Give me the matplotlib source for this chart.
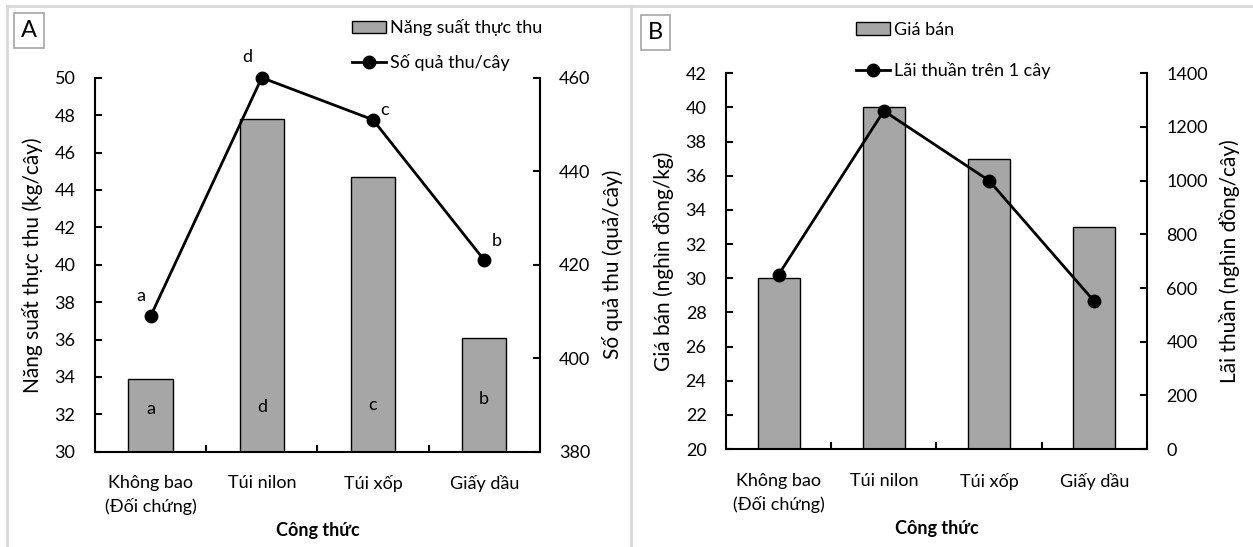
import matplotlib
matplotlib.use("Agg")
import matplotlib.pyplot as plt
from matplotlib.lines import Line2D

plt.rcParams['font.family'] = ['Lato', 'Noto Sans', 'DejaVu Sans']

# data
categories = ['Không bao\n(Đối chứng)', 'Túi nilon', 'Túi xốp', 'Giấy dầu']

yield_kg = [33.9, 47.8, 44.7, 36.1]          # Năng suất thực thu
fruits = [409, 460, 451, 421]                # Số quả thu/cây
bar_letters = ['a', 'd', 'c', 'b']
line_letters = ['a', 'd', 'c', 'b']

price = [30, 40, 37, 33]                     # Giá bán
profit = [650, 1260, 1000, 550]              # Lãi thuần trên 1 cây

bar_color = '#A6A6A6'
fs = 13

fig = plt.figure(figsize=(12.53, 5.47), dpi=100)

# panel frame lines (light grey)
for ln in [([0.0055, 1.0], [0.989, 0.989]),
           ([0.0055, 0.0055], [0.0, 0.989]),
           ([0.5035, 0.5035], [0.0, 0.989])]:
    fig.add_artist(Line2D(ln[0], ln[1], color='#D9D9D9', lw=2, transform=fig.transFigure))


def panel(rect, bars, line, ylim_l, yticks_l, ylim_r, yticks_r, ylab_l, ylab_r,
          bar_lab, line_lab, letter, letter_pos, leg_pos, leg_space):
    ax = fig.add_axes(rect)
    x = list(range(len(categories)))
    b = ax.bar(x, bars, width=0.4, color=bar_color, edgecolor='black', linewidth=1,
               label=bar_lab, zorder=2)
    ax.set_xlim(-0.5, len(categories) - 0.5)
    ax.set_ylim(*ylim_l)
    ax.set_yticks(yticks_l)
    ax.set_xticks(x)
    ax.set_xticklabels(categories, fontsize=fs, linespacing=1.5)
    ax.set_xticks([0.5, 1.5, 2.5], minor=True)
    ax.tick_params(axis='x', which='major', length=0, pad=17)
    ax.tick_params(axis='x', which='minor', direction='in', length=5, width=1.5)
    ax.tick_params(axis='y', direction='in', length=5, width=1.5, labelsize=fs, pad=14)
    ax.spines['top'].set_visible(False)
    ax.spines['right'].set_visible(False)
    for s in ['left', 'bottom']:
        ax.spines[s].set_linewidth(1.5)
    ax.set_ylabel(ylab_l, fontsize=15, labelpad=8)
    ax.set_xlabel('Công thức', fontsize=fs, fontweight='bold', labelpad=5)

    ax2 = ax.twinx()
    l, = ax2.plot(x, line, color='black', lw=2, marker='o', markersize=9,
                  label=line_lab, zorder=3, clip_on=False)
    ax2.set_ylim(*ylim_r)
    ax2.set_yticks(yticks_r)
    ax2.tick_params(axis='y', direction='in', length=5, width=1.5, labelsize=fs, pad=14)
    for s in ['top', 'left', 'bottom']:
        ax2.spines[s].set_visible(False)
    ax2.spines['right'].set_linewidth(1.5)
    ax2.set_ylabel(ylab_r, fontsize=15, labelpad=8)

    fig.text(letter_pos[0], letter_pos[1], letter, fontsize=17, ha='left', va='top',
             bbox=dict(boxstyle='square,pad=0.3', facecolor='white', edgecolor='#A6A6A6', lw=1.2))

    ax2.legend([b, l], [bar_lab, line_lab], loc='upper left', bbox_to_anchor=leg_pos,
               bbox_transform=fig.transFigure, frameon=False, fontsize=fs,
               handlelength=1.9, handletextpad=0.2, labelspacing=leg_space, borderpad=0,
               borderaxespad=0)
    return ax, ax2


axA, axA2 = panel([0.0758, 0.174, 0.355, 0.684], yield_kg, fruits,
                  (30, 50), list(range(30, 51, 2)), (380, 460), [380, 400, 420, 440, 460],
                  'Năng suất thực thu (kg/cây)', 'Số quả thu (quả/cây)',
                  'Năng suất thực thu', 'Số quả thu/cây', 'A', (0.017, 0.963), (0.281, 0.965), 1.0)

# significance letters
x = range(len(categories))
bar_letter_y = [32.3, 32.4, 32.5, 32.8]
for xi, t, yy in zip(x, bar_letters, bar_letter_y):
    axA.text(xi, yy, t, ha='center', va='center', fontsize=fs)
line_off = [(-10, 20), (-15, 21), (12, 10), (13, 19)]
for xi, yv, t, off in zip(x, fruits, line_letters, line_off):
    axA2.annotate(t, (xi, yv), xytext=off, textcoords='offset pixels',
                  ha='center', va='center', fontsize=fs)

axB, axB2 = panel([0.5794, 0.179, 0.336, 0.687], price, profit,
                  (20, 42), list(range(20, 43, 2)), (0, 1400), list(range(0, 1401, 200)),
                  'Giá bán (nghìn đồng/kg)', 'Lãi thuần (nghìn đồng/cây)',
                  'Giá bán', 'Lãi thuần trên 1 cây', 'B', (0.517, 0.96), (0.683, 0.96), 1.35)

fig.savefig('out.png', dpi=100)
